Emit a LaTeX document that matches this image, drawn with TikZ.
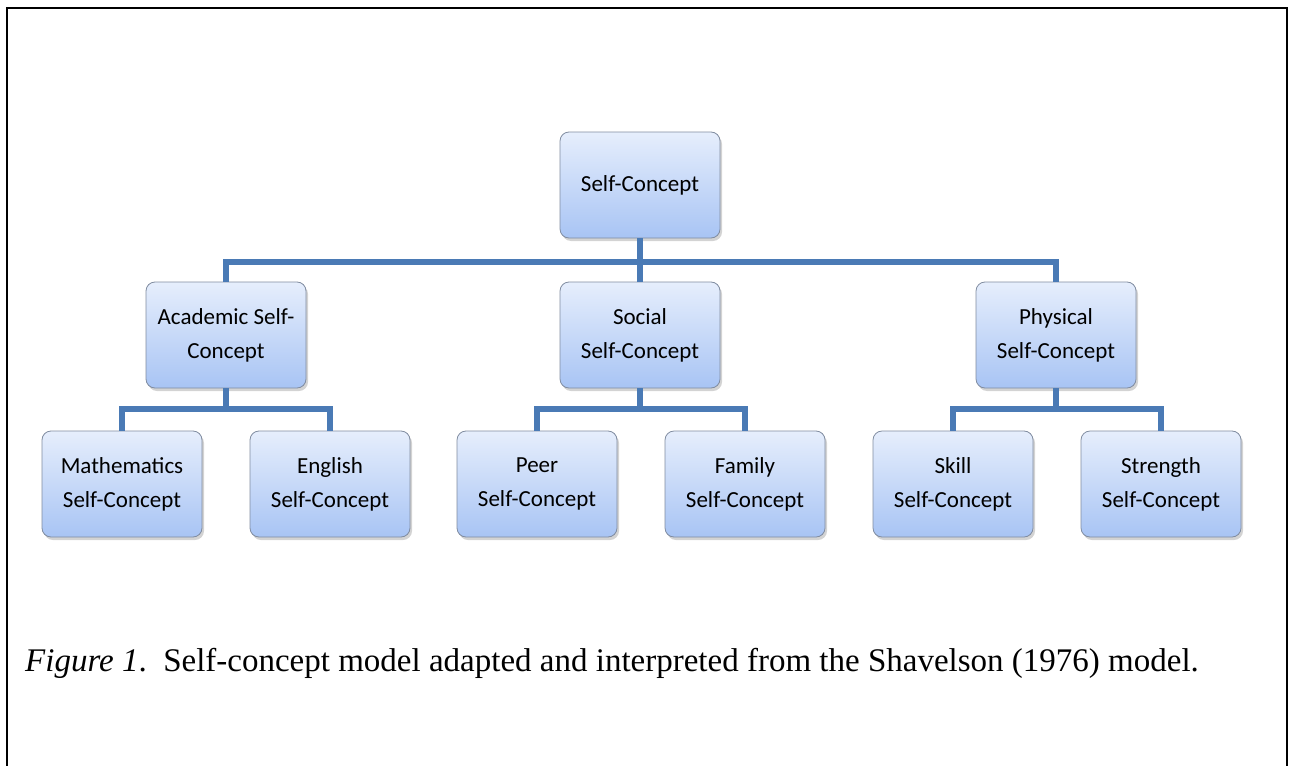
\documentclass[tikz,border=0pt]{standalone}
\usepackage{fontspec}
\setmainfont{Liberation Serif}
\newfontfamily\boxfont{Carlito}
\usetikzlibrary{shadows}
\definecolor{linkblue}{RGB}{74,122,181}
\definecolor{boxtop}{RGB}{230,238,252}
\definecolor{boxbot}{RGB}{168,196,244}
\definecolor{boxline}{RGB}{128,140,160}
\tikzset{
  concept/.style={draw=boxline,line width=.8pt,rounded corners=9pt,top color=boxtop,bottom color=boxbot,
    minimum width=160pt,minimum height=106pt,align=center,font=\boxfont\fontsize{23}{34}\selectfont,
    drop shadow={shadow xshift=2pt,shadow yshift=-3pt,opacity=.35,fill=gray}},
  link/.style={linkblue,line width=6pt}
}
\begin{document}
\begin{tikzpicture}[x=1pt,y=-1pt]
\useasboundingbox (0,0) rectangle (1289,765);
\draw[line width=2.5pt](7,770)--(7,8)--(1287,8)--(1287,770);
\node[concept](top) at (640,185){Self-Concept};
\node[concept](aca) at (226,335){Academic Self-\\Concept};
\node[concept](soc) at (640,335){Social\\Self-Concept};
\node[concept](phy) at (1056,335){Physical\\Self-Concept};
\node[concept](mat) at (122,484){Mathematics\\Self-Concept};
\node[concept](eng) at (330,484){English\\Self-Concept};
\node[concept](pee) at (537,484){Peer\\Self-Concept};
\node[concept](fam) at (745,484){Family\\Self-Concept};
\node[concept](ski) at (953,484){Skill\\Self-Concept};
\node[concept](str) at (1161,484){Strength\\Self-Concept};
\draw[link](top.south)--(soc.north)(aca.north)--++(0,-20)-|(phy.north);
\draw[link](aca.south)--++(0,21)(mat.north)--++(0,-22)-|(eng.north);
\draw[link](soc.south)--++(0,21)(pee.north)--++(0,-22)-|(fam.north);
\draw[link](phy.south)--++(0,21)(ski.north)--++(0,-22)-|(str.north);
\node[anchor=west,font=\fontsize{33}{36}\selectfont,inner sep=0pt](cap) at (25,663){\textit{Figure 1}.\ \ Self-concept model adapted and interpreted from the Shavelson (1976) model.};
\end{tikzpicture}
\end{document}
